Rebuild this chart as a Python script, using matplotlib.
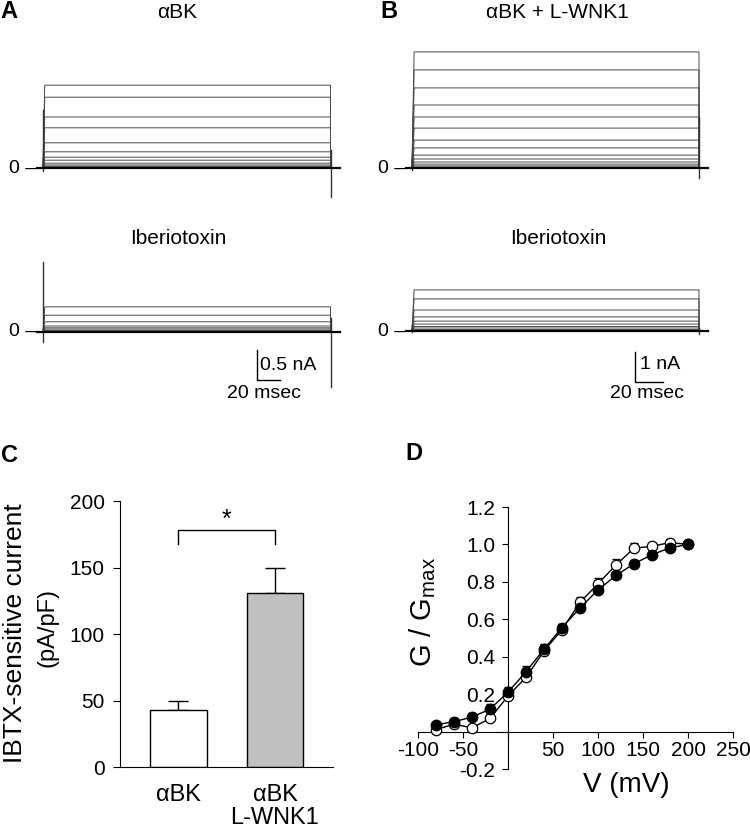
import numpy as np
import matplotlib
matplotlib.use("Agg")
import matplotlib.pyplot as plt

plt.rcParams['font.family'] = ['Liberation Sans', 'DejaVu Sans']
plt.rcParams['mathtext.default'] = 'regular'

# ---- data ----
# steady current level of each sweep (nA)
a_ctrl_levels = [1.38, 1.18, 0.85, 0.67, 0.42, 0.27, 0.18, 0.13, 0.08, 0.05, 0.03, 0.02, 0.01, 0.0]
a_ibtx_levels = [0.42, 0.28, 0.17, 0.10, 0.07, 0.05, 0.03, 0.02, 0.01, 0.0]
b_ctrl_levels = [3.87, 3.27, 2.67, 2.10, 1.70, 1.33, 0.93, 0.67, 0.43, 0.30, 0.20, 0.13, 0.07, 0.03, 0.0]
b_ibtx_levels = [1.37, 1.07, 0.70, 0.47, 0.33, 0.23, 0.15, 0.10, 0.05, 0.02, 0.0]
a_pulse_ms = 250
b_pulse_ms = 205
# capacitive transients (low, high) at pulse start / end, nA
a_ctrl_spikes = [(-0.05, 0.97), (-0.48, 0.30)]
a_ibtx_spikes = [(-0.17, 1.17), (-0.92, 0.23)]
b_ctrl_spikes = [(-0.05, 0.3), (-0.33, 1.70)]
b_ibtx_spikes = [(-0.05, 0.2), (-0.10, 0.10)]

# panel C
bar_labels = ['\u03b1BK', '\u03b1BK\nL-WNK1']
bar_means = [43, 131]
bar_sem = [7, 19]
bar_colors = ['white', '#c0c0c0']

# panel D
volts = [-80, -60, -40, -20, 0, 20, 40, 60, 80, 100, 120, 140, 160, 180, 200]
g_open = [0.01, 0.04, 0.02, 0.07, 0.19, 0.29, 0.43, 0.545, 0.69, 0.79, 0.89, 0.98, 0.99, 1.01, 1.0]
g_open_err = [0.01, 0.01, 0.01, 0.02, 0.02, 0.02, 0.03, 0.03, 0.03, 0.03, 0.03, 0.03, 0.02, 0.02, 0.0]
g_filled = [0.036, 0.053, 0.077, 0.12, 0.21, 0.32, 0.44, 0.556, 0.66, 0.757, 0.834, 0.897, 0.945, 0.982, 1.0]
g_filled_err = [0.01, 0.02, 0.02, 0.03, 0.03, 0.03, 0.03, 0.02, 0.02, 0.02, 0.02, 0.02, 0.02, 0.01, 0.0]

W, H = 750, 830
fig = plt.figure(figsize=(7.5, 8.3), dpi=100)


def px_axes(x0, y0, x1, y1):
    return fig.add_axes([x0 / W, 1 - y1 / H, (x1 - x0) / W, (y1 - y0) / H])


def trace_axes(box, origin, px_ms, px_na):
    x0, y0, x1, y1 = box
    ox, oy = origin
    ax = px_axes(x0, y0, x1, y1)
    ax.set_xlim((x0 - ox) / px_ms, (x1 - ox) / px_ms)
    ax.set_ylim((oy - y1) / px_na, (oy - y0) / px_na)
    ax.axis('off')
    return ax


def draw_traces(ax, levels, T, spikes, px_ms):
    for lev in levels:
        ax.plot([0, 1.5, T, T], [0, lev, lev, 0], color='#4a4a4a', lw=0.7)
    (s0lo, s0hi), (s1lo, s1hi) = spikes
    ax.plot([0, 0], [s0lo, s0hi], color='#333333', lw=1.0)
    ax.plot([T, T], [s1lo, s1hi], color='#333333', lw=1.0)
    ax.plot([-6 / px_ms, T + 9 / px_ms], [0, 0], color='black', lw=1.6)
    ax.text(-7 / px_ms, 0, '0 \u2013', ha='right', va='center', fontsize=14)


# Panel A
axa1 = trace_axes((0, 40, 365, 210), (43, 168), 1.15, 60)
draw_traces(axa1, a_ctrl_levels, a_pulse_ms, a_ctrl_spikes, 1.15)
axa2 = trace_axes((0, 250, 365, 410), (43, 332), 1.15, 60)
draw_traces(axa2, a_ibtx_levels, a_pulse_ms, a_ibtx_spikes, 1.15)
# scale bar 0.5 nA / 20 msec
axa2.plot([186, 186, 206], [-0.3, -0.8, -0.8], color='black', lw=1)
axa2.text(189, -0.55, '0.5 nA', ha='left', va='center', fontsize=14)
axa2.text(192, -1.02, '20 msec', ha='center', va='center', fontsize=14)

# Panel B
axb1 = trace_axes((370, 40, 740, 210), (412, 168), 1.4, 30)
draw_traces(axb1, b_ctrl_levels, b_pulse_ms, b_ctrl_spikes, 1.4)
axb2 = trace_axes((370, 250, 740, 410), (412, 331), 1.4, 30)
draw_traces(axb2, b_ibtx_levels, b_pulse_ms, b_ibtx_spikes, 1.4)
axb2.plot([159, 159, 179], [-0.7, -1.7, -1.7], color='black', lw=1)
axb2.text(163, -1.13, '1 nA', ha='left', va='center', fontsize=14)
axb2.text(168, -2.07, '20 msec', ha='center', va='center', fontsize=14)

# titles and panel letters
fig.text(9 / W, 1 - 12 / H, 'A', fontsize=17, fontweight='bold', ha='center', va='center')
fig.text(389 / W, 1 - 12 / H, 'B', fontsize=17, fontweight='bold', ha='center', va='center')
fig.text(10 / W, 1 - 455 / H, 'C', fontsize=17, fontweight='bold', ha='center', va='center')
fig.text(414 / W, 1 - 453 / H, 'D', fontsize=17, fontweight='bold', ha='center', va='center')
fig.text(177 / W, 1 - 12 / H, '\u03b1BK', fontsize=15, ha='center', va='center')
fig.text(557 / W, 1 - 12 / H, '\u03b1BK + L-WNK1', fontsize=15, ha='center', va='center')
fig.text(178 / W, 1 - 238 / H, 'Iberiotoxin', fontsize=15, ha='center', va='center')
fig.text(558 / W, 1 - 238 / H, 'Iberiotoxin', fontsize=15, ha='center', va='center')

# Panel C
axc = px_axes(120, 501, 333, 767)
xpos = np.arange(len(bar_means))
axc.bar(xpos, bar_means, width=0.59, color=bar_colors, edgecolor='black', linewidth=1, zorder=2)
axc.errorbar(xpos, bar_means, yerr=[[0, 0], bar_sem], fmt='none', ecolor='black',
             elinewidth=1, capsize=7, capthick=1, zorder=1)
axc.set_xlim(-0.606, 1.601)
axc.set_ylim(0, 200)
axc.set_yticks([0, 50, 100, 150, 200])
axc.tick_params(axis='y', direction='out', length=5, labelsize=15, pad=6)
axc.set_xticks(xpos)
axc.set_xticklabels(bar_labels, fontsize=17, va='top', linespacing=1.05)
axc.tick_params(axis='x', length=0, pad=12)
for s in ['top', 'right']:
    axc.spines[s].set_visible(False)
axc.plot([0, 0, 1, 1], [168, 178, 178, 168], color='black', lw=1, clip_on=False)
axc.text(0.5, 186, '*', ha='center', va='center', fontsize=18)
fig.text(15 / W, 1 - 633 / H, 'IBTX-sensitive current', rotation=90, fontsize=19,
         ha='center', va='center')
fig.text(47 / W, 1 - 627 / H, '(pA/pF)', rotation=90, fontsize=17, ha='center', va='center')

# Panel D
axd = px_axes(418, 507, 733, 769)
axd.errorbar(volts, g_open, yerr=[[0] * len(volts), g_open_err], fmt='none', ecolor='black',
             elinewidth=0.8, capsize=3, zorder=2)
axd.plot(volts, g_open, color='black', lw=1, zorder=2)
axd.plot(volts, g_open, 'o', ms=7.5, mfc='white', mec='black', mew=0.9, zorder=3)
axd.errorbar(volts, g_filled, yerr=[[0] * len(volts), g_filled_err], fmt='none', ecolor='black',
             elinewidth=0.8, capsize=3, zorder=4)
axd.plot(volts, g_filled, color='black', lw=1, zorder=4)
axd.plot(volts, g_filled, 'o', ms=7.5, mfc='black', mec='black', zorder=5)
axd.set_xlim(-100, 250)
axd.set_ylim(-0.2, 1.2)
axd.spines['left'].set_position(('data', 0))
axd.spines['bottom'].set_position(('data', 0))
for s in ['top', 'right']:
    axd.spines[s].set_visible(False)
xt = [-100, -50, 0, 50, 100, 150, 200, 250]
axd.set_xticks(xt)
axd.set_xticklabels(['' if v == 0 else str(v) for v in xt])
yt = [-0.2, 0.0, 0.2, 0.4, 0.6, 0.8, 1.0, 1.2]
axd.set_yticks(yt)
axd.set_yticklabels(['' if v == 0 else f'{v:.1f}' for v in yt])
axd.tick_params(direction='out', length=4, labelsize=15)
axd.tick_params(axis='y', pad=5)
axd.tick_params(axis='x', pad=3)
fig.text(423 / W, 1 - 612 / H, 'G / G$_{max}$', rotation=90, fontsize=21, ha='center', va='center')
fig.text(626 / W, 1 - 785 / H, 'V (mV)', fontsize=20, ha='center', va='center')

fig.savefig('out.png', dpi=100)
